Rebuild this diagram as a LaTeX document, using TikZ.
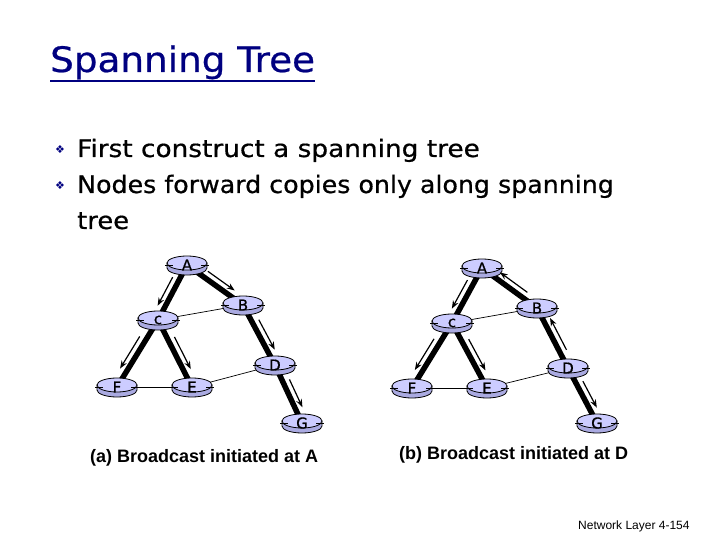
\documentclass[tikz,border=0pt]{standalone}
\usepackage{fontspec}
\setmainfont{DejaVu Sans}[FakeBold=0.6]
\newfontfamily\arialf{Liberation Sans}
\newfontfamily\dejavu{DejaVu Sans}
\usetikzlibrary{calc,backgrounds,arrows.meta}
\definecolor{navy}{RGB}{0,0,128}
\definecolor{rtop}{RGB}{204,204,255}
\definecolor{rbody}{RGB}{170,170,225}
\begin{document}
\begin{tikzpicture}[x=1pt,y=1pt,
 rnode/.style={rectangle, minimum width=44pt, minimum height=24pt, inner sep=0pt,
   font=\fontsize{15}{15}\selectfont},
 tree/.style={line width=5.5pt},
 link/.style={line width=0.7pt},
 flow/.style={line width=1.2pt,-{Stealth[length=8pt,width=6pt]}},
 txt/.style={inner sep=0pt, anchor=base west},
 bul/.style={text=navy, font=\dejavu\fontsize{11}{11}\selectfont, inner sep=0pt},
]
\useasboundingbox (0,0) rectangle (720,-540);

% title
\node[txt, text=navy, font=\fontsize{35}{35}\selectfont] (title) at (50,-72) {\scalebox{1.066}[1]{Spanning Tree}};
\draw[navy, line width=2.5pt] (title.base west)++(0,-9) -- (title.base east |- 0,-81);

% bullets
\node[bul] (b1) at (60,-150) {❖};
\node[bul] (b2) at (60,-186) {❖};
\node[txt, font=\fontsize{24}{24}\selectfont] (l1) at (77,-157) {\scalebox{1.098}[1]{First construct a spanning tree}};
\node[txt, font=\fontsize{24}{24}\selectfont] (l2) at (77,-193) {\scalebox{1.053}[1]{Nodes forward copies only along spanning}};
\node[txt, font=\fontsize{24}{24}\selectfont] (l3) at (77,-229) {\scalebox{1.075}[1]{tree}};

% (a)
\node[rnode] (aA) at (187,-265) {A};
\node[rnode] (aB) at (243,-305) {B};
\node[rnode] (ac) at (158,-320) {c};
\node[rnode] (aD) at (275,-365) {D};
\node[rnode] (aF) at (117,-387) {F};
\node[rnode] (aE) at (192,-387) {E};
\node[rnode] (aG) at (302,-423) {G};
% (b)
\node[rnode] (bA) at (482,-268) {A};
\node[rnode] (bB) at (537,-308) {B};
\node[rnode] (bc) at (452,-323) {c};
\node[rnode] (bD) at (568,-368) {D};
\node[rnode] (bF) at (412,-388) {F};
\node[rnode] (bE) at (487,-388) {E};
\node[rnode] (bG) at (597,-423) {G};

\begin{pgfonlayer}{background}
\foreach \p in {a,b}{
  \draw[tree] (\p A.center) -- (\p c.center);
  \draw[tree] (\p A.center) -- (\p B.center);
  \draw[tree] (\p c.center) -- (\p F.center);
  \draw[tree] (\p c.center) -- (\p E.center);
  \draw[tree] (\p B.center) -- (\p D.center);
  \draw[tree] (\p D.center) -- (\p G.center);
  \draw[link] (\p c.center) -- (\p B.center);
  \draw[link] (\p F.center) -- (\p E.center);
  \draw[link] (\p E.center) -- (\p D.center);
}
\foreach \n in {aA,aB,ac,aD,aF,aE,aG,bA,bB,bc,bD,bF,bE,bG}{
  \begin{scope}[shift={(\n.center)}]
   \filldraw[fill=rbody,draw=black,line width=0.8pt] (-20,2) -- (-20,-3) arc[start angle=180,end angle=360,x radius=20,y radius=7] -- (20,2) -- cycle;
   \filldraw[fill=rtop,draw=black,line width=0.8pt] (0,2) ellipse[x radius=20,y radius=7];
   \draw[line width=1.3pt] (-22,-0.5)--(-14,-0.5) (14,-0.5)--(22,-0.5);
  \end{scope}
}
\end{pgfonlayer}

% flow arrows (a)
\draw[flow] ($(aA)!0.28!(ac)!7pt!-90:(ac)$) -- ($(aA)!0.8!(ac)!7pt!-90:(ac)$);
\draw[flow] ($(aA)!0.3!(aB)!7pt!90:(aB)$) -- ($(aA)!0.78!(aB)!7pt!90:(aB)$);
\draw[flow] ($(ac)!0.3!(aF)!7pt!-90:(aF)$) -- ($(ac)!0.78!(aF)!7pt!-90:(aF)$);
\draw[flow] ($(ac)!0.3!(aE)!7pt!90:(aE)$) -- ($(ac)!0.78!(aE)!7pt!90:(aE)$);
\draw[flow] ($(aB)!0.3!(aD)!7pt!90:(aD)$) -- ($(aB)!0.8!(aD)!7pt!90:(aD)$);
\draw[flow] ($(aD)!0.3!(aG)!7pt!90:(aG)$) -- ($(aD)!0.78!(aG)!7pt!90:(aG)$);
% flow arrows (b)
\draw[flow] ($(bA)!0.28!(bc)!7pt!-90:(bc)$) -- ($(bA)!0.8!(bc)!7pt!-90:(bc)$);
\draw[flow] ($(bB)!0.25!(bA)!7pt!-90:(bA)$) -- ($(bB)!0.75!(bA)!7pt!-90:(bA)$);
\draw[flow] ($(bc)!0.3!(bF)!7pt!-90:(bF)$) -- ($(bc)!0.78!(bF)!7pt!-90:(bF)$);
\draw[flow] ($(bc)!0.3!(bE)!7pt!90:(bE)$) -- ($(bc)!0.78!(bE)!7pt!90:(bE)$);
\draw[flow] ($(bD)!0.25!(bB)!7pt!-90:(bB)$) -- ($(bD)!0.78!(bB)!7pt!-90:(bB)$);
\draw[flow] ($(bD)!0.3!(bG)!7pt!90:(bG)$) -- ($(bD)!0.78!(bG)!7pt!90:(bG)$);

% captions
\node[txt, font=\arialf\bfseries\fontsize{18}{18}\selectfont] (capa) at (90,-462) {(a) Broadcast initiated at A};
\node[txt, font=\arialf\bfseries\fontsize{18}{18}\selectfont] (capb) at (399,-459) {(b) Broadcast initiated at D};
\node[txt, font=\arialf\fontsize{12}{12}\selectfont] (foot) at (578,-529) {Network Layer 4-154};
\end{tikzpicture}
\end{document}
